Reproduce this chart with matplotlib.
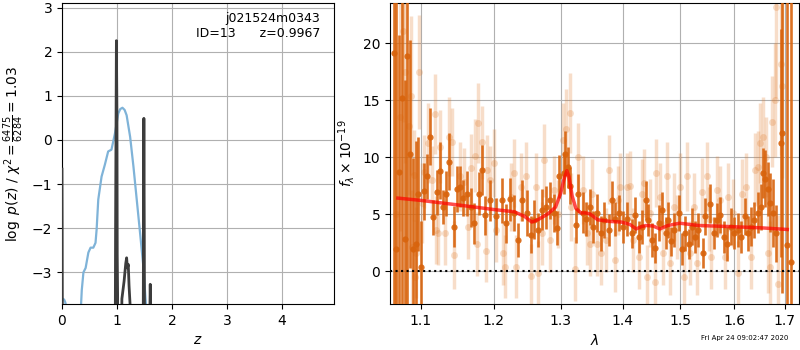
import matplotlib
matplotlib.use("Agg")
import matplotlib.pyplot as plt
from matplotlib.ticker import FixedLocator, FixedFormatter, NullLocator

# ---------------- data: left panel ----------------
pz_z = [0.0, 0.003, 0.012, 0.96, 0.975, 0.99, 1.0, 1.005, 1.012, 1.02, 1.06,
        1.09, 1.13, 1.16, 1.176, 1.19, 1.206, 1.22, 1.24, 1.25, 1.47, 1.483,
        1.49, 1.497, 1.51, 1.585, 1.598, 1.606, 1.614, 1.625]
pz_log = [-0.66, -2.0, -8, -8, -2.0, 2.25, 0.5, -2.6, -3.5, -8, -8,
          -3.6, -3.2, -2.8, -2.67, -2.9, -2.82, -3.3, -3.75, -8, -8, -2.0,
          0.49, -2.0, -8, -8, -4.0, -3.27, -4.0, -8]

chi_z1 = [0.0, 0.02, 0.04, 0.06, 0.08]
chi_v1 = [-3.62, -3.6, -3.62, -3.68, -3.8]
chi_z2 = [0.34, 0.36, 0.39, 0.43, 0.48, 0.52, 0.57, 0.61, 0.63, 0.66, 0.72,
          0.78, 0.84, 0.90, 0.964, 1.024, 1.06, 1.10, 1.14, 1.176, 1.24,
          1.30, 1.36, 1.42, 1.48, 1.52, 1.54]
chi_v2 = [-3.9, -3.4, -3.0, -2.9, -2.55, -2.44, -2.44, -2.33, -2.03, -1.35, -0.83,
          -0.56, -0.26, -0.22, 0.15, 0.6, 0.7, 0.73, 0.68, 0.56, 0.07,
          -0.6, -1.35, -2.1, -2.86, -3.6, -3.9]

# ---------------- data: right panel ----------------
dark_wave = [1.065, 1.067, 1.072, 1.075, 1.079, 1.082, 1.086, 1.089, 1.093, 1.096,
             1.100, 1.104, 1.108, 1.112, 1.116, 1.121, 1.125, 1.129, 1.133, 1.137,
             1.144, 1.148, 1.153, 1.157, 1.162, 1.168, 1.172, 1.179, 1.184, 1.188,
             1.195, 1.204, 1.212, 1.218, 1.224, 1.230, 1.236, 1.242, 1.249, 1.255,
             1.259, 1.266, 1.272, 1.277, 1.284, 1.289, 1.294, 1.298, 1.305, 1.307,
             1.311, 1.315, 1.324, 1.328, 1.335, 1.340, 1.347, 1.352, 1.358, 1.364,
             1.370, 1.377, 1.382, 1.388, 1.394, 1.401, 1.407, 1.416, 1.421, 1.427,
             1.433, 1.439, 1.444, 1.450, 1.456, 1.462, 1.468, 1.474, 1.479, 1.484,
             1.489, 1.497, 1.503, 1.509, 1.515, 1.521, 1.527, 1.533, 1.541, 1.546,
             1.555, 1.561, 1.568, 1.574, 1.580, 1.586, 1.593, 1.600, 1.607, 1.613,
             1.620, 1.626, 1.633, 1.639, 1.646, 1.652, 1.656, 1.661, 1.666, 1.671,
             1.677, 1.683, 1.692, 1.695, 1.704, 1.713]
dark_flux = [19.1, 1.9, 8.7, 15.2, 2.8, 18.9, 10.3, 1.9, 2.4, 6.8,
             0.4, 7.0, 8.3, 11.8, 4.7, 6.9, 8.8, 5.6, 6.8, 9.6,
             3.9, 7.2, 7.4, 6.4, 6.8, 5.6, 4.2, 6.8, 8.9, 4.9,
             6.2, 4.8, 6.2, 4.2, 6.3, 5.1, 2.7, 6.2, 5.1, 3.2,
             4.5, 3.6, 5.4, 5.6, 6.2, 5.1, 3.8, 8.3, 8.6, 10.3,
             9.1, 7.5, 4.0, 6.8, 5.1, 4.6, 5.6, 3.9, 5.1, 3.3,
             4.5, 3.6, 6.2, 4.6, 5.1, 3.9, 4.6, 3.3, 4.9, 3.0,
             3.9, 6.2, 4.5, 2.7, 2.0, 4.2, 5.4, 3.3, 4.5, 2.6,
             3.6, 5.1, 1.9, 3.3, 2.4, 3.9, 3.0, 3.6, 1.6, 4.8,
             5.9, 3.3, 4.5, 4.9, 3.0, 2.4, 3.9, 3.3, 3.6, 3.0,
             4.8, 3.3, 3.9, 4.5, 5.1, 5.6, 8.6, 8.1, 7.2, 6.0,
             5.1, 3.3, 11.2, 12.1, 2.3, 0.8]
dark_err = [25, 30, 12, 20, 14, 22, 10, 8, 9, 5,
            4, 2.5, 2.0, 2.5, 1.5, 2.0, 2.5, 1.5, 2.0, 2.5,
            1.8, 2.0, 1.8, 1.6, 2.0, 1.7, 1.8, 1.9, 2.2, 1.7,
            1.8, 1.6, 2.0, 1.7, 1.9, 1.6, 1.5, 1.8, 2.0, 1.6,
            1.7, 1.5, 1.8, 1.9, 1.6, 1.7, 1.5, 1.9, 1.8, 2.0,
            1.8, 1.6, 1.5, 1.7, 1.8, 1.5, 1.6, 1.4, 1.7, 1.5,
            1.6, 1.4, 1.7, 1.5, 1.6, 1.4, 1.5, 1.3, 1.6, 1.4,
            1.5, 1.7, 1.4, 1.5, 1.3, 1.6, 1.5, 1.4, 1.6, 1.3,
            1.5, 1.6, 1.4, 1.5, 1.3, 1.6, 1.4, 1.5, 1.3, 1.6,
            1.7, 1.4, 1.5, 1.6, 1.4, 1.5, 1.6, 1.4, 1.5, 1.4,
            1.6, 1.5, 1.7, 1.6, 1.8, 2.0, 2.2, 2.5, 2.4, 2.6,
            3.0, 2.5, 10, 14, 25, 25]

light_wave = [1.068, 1.073, 1.077, 1.079, 1.084, 1.087, 1.088, 1.091, 1.092, 1.094,
              1.097, 1.101, 1.104, 1.109, 1.114, 1.118, 1.120, 1.122, 1.126, 1.132,
              1.138, 1.141, 1.145, 1.152, 1.158, 1.163, 1.168, 1.174, 1.176, 1.178,
              1.183, 1.189, 1.190, 1.195, 1.200, 1.204, 1.213, 1.216, 1.225, 1.229,
              1.232, 1.240, 1.247, 1.255, 1.263, 1.266, 1.271, 1.274, 1.284, 1.289,
              1.296, 1.3045, 1.3087, 1.314, 1.317, 1.322, 1.328, 1.335, 1.342, 1.347,
              1.349, 1.358, 1.365, 1.373, 1.378, 1.388, 1.393, 1.396, 1.407, 1.412,
              1.418, 1.427, 1.433, 1.436, 1.442, 1.447, 1.455, 1.458, 1.464, 1.470,
              1.476, 1.482, 1.488, 1.494, 1.500, 1.506, 1.512, 1.518, 1.524, 1.531,
              1.539, 1.548, 1.552, 1.557, 1.567, 1.574, 1.582, 1.588, 1.598, 1.607,
              1.616, 1.622, 1.632, 1.640, 1.646, 1.651, 1.656, 1.662, 1.667, 1.671,
              1.674, 1.680, 1.683, 1.686, 1.692, 1.694]
light_flux = [5.0, 13.5, 21.1, 17.5, 12.7, 15.4, 2.1, 8.4, -0.5, 1.6,
              17.5, 6.0, 8.7, 11.2, 8.0, 13.8, 3.6, 3.3, 10.9, 3.3,
              11.8, 11.3, 1.4, 8.3, 7.8, 3.9, 9.0, 10.1, 2.4, 13.0,
              11.3, 1.8, 8.9, 8.0, 9.5, 3.6, 1.6, 0.4, 6.5, 8.6,
              0.4, 7.4, 8.3, -0.4, 7.4, -0.2, 3.3, 9.7, 2.7, 7.1,
              5.0, 11.5, 12.5, 13.9, 5.6, 0.2, 10.0, 7.1, 3.3, 2.4,
              6.8, 2.4, 1.6, 2.7, 8.9, 1.0, 6.2, 7.4, 7.4, 7.5,
              2.7, 1.2, 6.8, 7.7, -0.5, 5.1, -1.0, 8.6, 6.5, 1.6,
              8.3, 0.7, 5.6, 3.9, 7.4, -0.5, 8.3, 1.6, 5.6, 0.7,
              6.9, 8.3, 4.6, 1.2, 7.1, 6.2, 1.2, 6.5, 5.1, -0.2,
              6.8, 7.4, 1.2, 8.9, 9.1, 11.2, 11.8, 10.0, 1.6, 0.4,
              13.1, 15.0, 23.2, -1.1, 18.2, 16.2]
light_err = [15, 10, 8, 8, 6, 7, 5, 4, 5, 4,
             5, 3.5, 3.2, 3.5, 3.0, 3.5, 3.0, 2.8, 3.2, 2.8,
             3.5, 3.0, 3.0, 3.0, 3.0, 2.8, 3.0, 3.2, 2.8, 3.5,
             3.2, 2.8, 3.0, 3.0, 3.0, 2.8, 2.8, 2.8, 3.0, 3.0,
             2.8, 3.0, 3.0, 2.8, 3.0, 2.8, 2.8, 3.2, 2.8, 3.0,
             3.0, 3.2, 3.5, 3.5, 3.0, 2.8, 3.0, 3.0, 2.8, 2.8,
             3.0, 2.8, 2.8, 2.8, 3.0, 2.8, 3.0, 3.0, 3.0, 3.0,
             2.8, 2.8, 3.0, 3.0, 2.8, 3.0, 2.8, 3.0, 3.0, 2.8,
             3.0, 2.8, 3.0, 2.8, 3.0, 2.8, 3.0, 2.8, 3.0, 2.8,
             3.0, 3.0, 2.8, 2.8, 3.0, 3.0, 2.8, 3.0, 3.0, 2.8,
             3.0, 3.0, 2.8, 3.2, 3.2, 3.5, 3.5, 3.5, 3.5, 4.0,
             4.0, 5.0, 8.0, 6.0, 8.0, 8.0]

model_wave = [1.070, 1.100, 1.150, 1.200, 1.230, 1.245, 1.256, 1.265, 1.280, 1.292,
              1.300, 1.305, 1.3097, 1.313, 1.318, 1.324, 1.332, 1.340, 1.347, 1.359,
              1.380, 1.398, 1.412, 1.423, 1.432, 1.440, 1.452, 1.464, 1.478, 1.499,
              1.533, 1.593, 1.650, 1.705]
model_flux = [6.4, 6.2, 5.8, 5.4, 5.2, 4.8, 4.3, 4.5, 5.0, 5.6,
              6.8, 8.0, 8.8, 8.3, 6.6, 5.5, 5.1, 5.1, 5.0, 4.5,
              4.35, 4.3, 4.1, 3.7, 3.9, 4.0, 3.95, 3.7, 4.0, 4.2,
              4.0, 3.9, 3.8, 3.65]

wave_ticks = [1.1, 1.2, 1.3, 1.4, 1.5, 1.6, 1.7]
wave_labels = ["1.1", "1.2", "1.3", "1.4", "1.5", "1.6", "1.7"]

# ---------------- figure ----------------
fig = plt.figure(figsize=(8, 3.5), dpi=100)
ax1 = fig.add_axes([0.0775, 0.131, 0.34, 0.86])
ax2 = fig.add_axes([0.4875, 0.131, 0.51125, 0.86])

# left panel
ax1.plot(chi_z1, chi_v1, color='#7fb3d8', lw=1.6, zorder=2)
ax1.plot(chi_z2, chi_v2, color='#7fb3d8', lw=1.6, zorder=2)
ax1.plot(pz_z, pz_log, color='#3c3c3c', lw=2.0, zorder=3)
ax1.set_xlim(0, 4.95)
ax1.set_ylim(-3.72, 3.1)
ax1.set_xticks([0, 1, 2, 3, 4])
ax1.set_yticks([-3, -2, -1, 0, 1, 2, 3])
ax1.grid(True, color='#b0b0b0', lw=0.8)
ax1.set_axisbelow(True)
ax1.set_xlabel(r'$z$', fontsize=10)
ax1.set_ylabel(r'$\log\ p(z)$ / $\chi^2=\frac{6475}{6284}=1.03$', fontsize=10)
ax1.text(0.95, 0.97, 'j021524m0343\nID=13      z=0.9967', transform=ax1.transAxes,
         ha='right', va='top', fontsize=9)

# right panel
ax2.errorbar(light_wave, light_flux, yerr=light_err, fmt='o', color='#e07b2a',
             alpha=0.25, ms=5, elinewidth=2.5, capsize=0, mec='none', zorder=2)
ax2.errorbar(dark_wave, dark_flux, yerr=dark_err, fmt='o', color='#d8630c',
             alpha=0.9, ms=4.5, elinewidth=1.9, capsize=0, mec='none', zorder=3)
ax2.plot(model_wave, model_flux, color='red', alpha=0.7, lw=2.5, zorder=4)
ax2.axhline(0, color='k', ls=':', lw=1.5, zorder=5)
ax2.set_xscale('log')
ax2.set_xlim(1.06, 1.729)
ax2.set_ylim(-2.9, 23.5)
ax2.xaxis.set_major_locator(FixedLocator(wave_ticks))
ax2.xaxis.set_major_formatter(FixedFormatter(wave_labels))
ax2.xaxis.set_minor_locator(NullLocator())
ax2.set_yticks([0, 5, 10, 15, 20])
ax2.grid(True, color='#b0b0b0', lw=0.8)
ax2.set_axisbelow(True)
ax2.set_xlabel(r'$\lambda$', fontsize=10)
ax2.set_ylabel(r'$f_\lambda\times10^{-19}$', fontsize=10)

fig.text(0.985, 0.025, 'Fri Apr 24 09:02:47 2020', ha='right', va='bottom', fontsize=5)

fig.savefig('out.png', dpi=100)
